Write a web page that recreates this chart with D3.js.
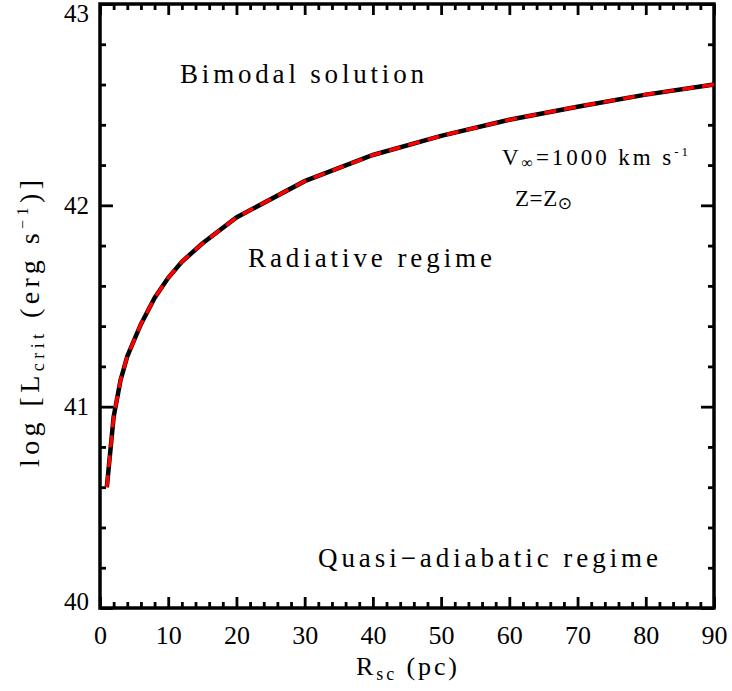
<!DOCTYPE html>
<html>
<head>
<meta charset="utf-8">
<script src="https://cdn.jsdelivr.net/npm/d3@7"></script>
<style>
  body { margin: 0; background: #fff; }
  svg text { font-family: "Liberation Serif", "DejaVu Serif", serif; fill: #000; }
</style>
</head>
<body>
<div id="chart"></div>
<script>
// curve values
var rsc = [1, 2, 3, 4, 5, 6, 8, 10, 12, 15, 20, 30, 40, 50, 60, 70, 80, 90];
var logL = [40.6, 40.95, 41.13, 41.25, 41.33, 41.41, 41.54, 41.64, 41.72, 41.81, 41.94, 42.12, 42.25, 42.345, 42.425, 42.49, 42.55, 42.6];
var xTicks = [0, 10, 20, 30, 40, 50, 60, 70, 80, 90];
var yTicks = [40, 41, 42, 43];

var width = 732, height = 691,
    margin = {left: 100, top: 4, right: 18, bottom: 83},
    w = width - margin.left - margin.right,
    h = height - margin.top - margin.bottom;

var svg = d3.select("#chart").append("svg")
    .attr("width", width)
    .attr("height", height);

var g = svg.append("g")
    .attr("transform", "translate(" + margin.left + "," + margin.top + ")");

var x = d3.scaleLinear().domain([0, 90]).range([0, w]);
var y = d3.scaleLinear().domain([40, 43]).range([h, 0]);

var xMinor = d3.range(0, 91, 2).filter(function (d) { return d % 10 != 0; });
var yMinor = d3.range(40, 43.01, 0.2).filter(function (d) { return Math.abs(d - Math.round(d)) > 0.01; });

function styleAxis(sel) {
    sel.select(".domain").remove();
    sel.selectAll("line").attr("stroke", "#000").attr("stroke-width", 2.8);
    sel.selectAll("text")
        .style("font-family", "'Liberation Serif', serif")
        .attr("font-size", 26);
}

// bottom
g.append("g").attr("transform", "translate(0," + h + ")")
    .call(d3.axisBottom(x).tickValues(xTicks).tickSize(-11).tickSizeOuter(0).tickPadding(18).tickFormat(d3.format("d")))
    .call(styleAxis);
g.append("g").attr("transform", "translate(0," + h + ")")
    .call(d3.axisBottom(x).tickValues(xMinor).tickSize(-6).tickFormat(""))
    .call(styleAxis);
// top
g.append("g")
    .call(d3.axisTop(x).tickValues(xTicks).tickSize(-11).tickFormat(""))
    .call(styleAxis);
g.append("g")
    .call(d3.axisTop(x).tickValues(xMinor).tickSize(-6).tickFormat(""))
    .call(styleAxis);
// left (edge labels pushed inward like the original)
g.append("g")
    .call(d3.axisLeft(y).tickValues(yTicks).tickSize(-13).tickPadding(11).tickFormat(d3.format("d")))
    .call(styleAxis)
    .selectAll("text")
    .attr("font-size", 25)
    .attr("dy", function (d) { return d == 43 ? "0.7em" : d == 40 ? "0.04em" : "0.33em"; });
g.append("g")
    .call(d3.axisLeft(y).tickValues(yMinor).tickSize(-6).tickFormat(""))
    .call(styleAxis);
// right
g.append("g").attr("transform", "translate(" + w + ",0)")
    .call(d3.axisRight(y).tickValues(yTicks).tickSize(-13).tickFormat(""))
    .call(styleAxis);
g.append("g").attr("transform", "translate(" + w + ",0)")
    .call(d3.axisRight(y).tickValues(yMinor).tickSize(-6).tickFormat(""))
    .call(styleAxis);

// frame
g.append("rect")
    .attr("width", w).attr("height", h)
    .attr("fill", "none").attr("stroke", "#000").attr("stroke-width", 3.5);

// curve
var data = rsc.map(function (d, i) { return [d, logL[i]]; });
var line = d3.line()
    .x(function (d) { return x(d[0]); })
    .y(function (d) { return y(d[1]); });

g.append("path").datum(data)
    .attr("d", line)
    .attr("fill", "none").attr("stroke", "#000").attr("stroke-width", 4.5);
g.append("path").datum(data)
    .attr("d", line)
    .attr("fill", "none").attr("stroke", "#ff0000").attr("stroke-width", 3.5)
    .attr("stroke-dasharray", "12,8");

// region labels
function label(txt, x0, base, len, size) {
    svg.append("text")
        .attr("x", x0).attr("y", base)
        .attr("font-size", size)
        .attr("textLength", len)
        .attr("lengthAdjust", "spacing")
        .text(txt);
}
label("Bimodal solution", 180, 83, 244, 27);
label("Radiative regime", 248, 267, 244, 27);
label("Quasi\u2212adiabatic regime", 318, 567, 340, 27);

// V and Z annotations
var t1 = svg.append("text").attr("x", 502).attr("y", 165).attr("font-size", 23)
    .attr("textLength", 186).attr("lengthAdjust", "spacing");
t1.append("tspan").text("V");
t1.append("tspan").attr("font-size", 16).attr("dy", 3).text("\u221e");
t1.append("tspan").attr("dy", -3).text("=1000 km s");
t1.append("tspan").attr("font-size", 13).attr("dy", -9).text("-1");

var t2 = svg.append("text").attr("x", 515).attr("y", 206).attr("font-size", 23)
    .attr("textLength", 57).attr("lengthAdjust", "spacing");
t2.append("tspan").text("Z=Z");
t2.append("tspan").attr("font-size", 17).attr("dy", 3).style("font-family", "'DejaVu Sans', sans-serif").text("\u2299");

// axis titles
var xl = svg.append("text")
    .attr("x", 356).attr("y", 675)
    .attr("font-size", 26)
    .attr("textLength", 101).attr("lengthAdjust", "spacing");
xl.append("tspan").text("R");
xl.append("tspan").attr("font-size", 18).attr("dy", 5).text("sc");
xl.append("tspan").attr("dy", -5).text(" (pc)");

var yl = svg.append("text")
    .attr("transform", "translate(39,467) rotate(-90)")
    .attr("font-size", 28)
    .attr("textLength", 287).attr("lengthAdjust", "spacing");
yl.append("tspan").text("log [L");
yl.append("tspan").attr("font-size", 18).attr("dy", 5).text("crit");
yl.append("tspan").attr("dy", -5).text(" (erg s");
yl.append("tspan").attr("font-size", 16).attr("dy", -11).text("\u22121");
yl.append("tspan").attr("dy", 11).text(")]");
</script>
</body>
</html>
